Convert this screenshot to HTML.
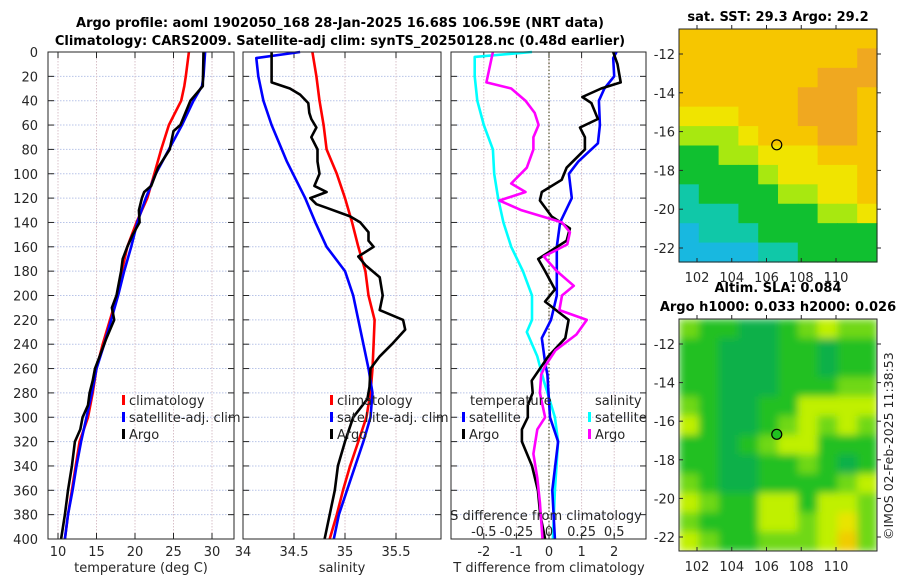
<!DOCTYPE html>
<html><head><meta charset="utf-8"><style>
body{margin:0;background:#fff;}
svg text{font-family:"DejaVu Sans","Liberation Sans",sans-serif;fill:#262626;}
</style></head><body>
<svg id="fig" xmlns="http://www.w3.org/2000/svg" width="900" height="580" viewBox="0 0 900 580">
<rect width="900" height="580" fill="#fff"/>
<text x="340" y="27" font-size="13" font-weight="bold" text-anchor="middle" style="fill:#000">Argo profile: aoml 1902050_168 28-Jan-2025 16.68S 106.59E (NRT data)</text>
<text x="340" y="45" font-size="13" font-weight="bold" text-anchor="middle" style="fill:#000">Climatology: CARS2009. Satellite-adj clim: synTS_20250128.nc (0.48d earlier)</text>
<g id="g1"></g>
<g id="g2"></g>
<g id="g3"></g>
<g id="m1"></g>
<g id="m2"></g>
<text x="778" y="21" font-size="13" font-weight="bold" text-anchor="middle" style="fill:#000">sat. SST: 29.3 Argo: 29.2</text>
<text x="778" y="292" font-size="13" font-weight="bold" text-anchor="middle" style="fill:#000">Altim. SLA: 0.084</text>
<text x="778" y="311" font-size="13" font-weight="bold" text-anchor="middle" style="fill:#000">Argo h1000: 0.033 h2000: 0.026</text>
<text transform="translate(893,540) rotate(-90)" font-size="12.5">©IMOS 02-Feb-2025 11:38:53</text>
</svg>
<script>
// ---- data ----
const tDepth = [0,20,28,40,60,80,100,120,140,160,180,200,240,260,280,300,320,340,360,380,400];
const tClim  = [27.0,26.6,26.4,26.0,24.4,23.4,22.5,21.6,20.2,19.0,18.3,17.7,15.8,15.0,14.5,13.9,12.8,12.3,11.8,11.3,10.9];
const tSat   = [29.1,28.9,28.7,27.6,26.1,24.4,22.7,21.4,20.3,19.5,18.6,17.8,16.0,15.0,14.4,13.7,13.0,12.4,11.9,11.3,10.9];
const argoDepth = [0,28,40,60,65,80,95,110,115,120,130,140,150,160,170,180,200,210,220,235,250,260,270,280,290,300,310,320,340,360,380,400];
const argoT = [28.9,28.8,27.2,25.9,25.0,24.5,23.0,22.1,21.2,20.9,20.5,20.6,19.7,19.0,18.4,18.2,17.6,17.0,17.3,16.3,15.4,14.8,14.5,14.1,13.9,13.2,12.9,12.2,11.8,11.3,10.9,10.4];
const sDepth = [0,5,20,40,60,80,90,100,120,140,160,180,200,220,240,260,280,300,320,340,360,380,400];
const sClim  = [34.68,34.69,34.72,34.75,34.79,34.82,34.87,34.92,35.0,35.07,35.13,35.2,35.23,35.29,35.28,35.27,35.25,35.21,35.13,35.05,34.98,34.92,34.85];
const sSat   = [34.56,34.13,34.15,34.2,34.28,34.38,34.43,34.49,34.61,34.71,34.82,35.0,35.08,35.13,35.18,35.23,35.27,35.25,35.18,35.1,35.02,34.94,34.89];
const argoSDepth = [0,25,30,35,42,50,55,62,70,80,90,100,110,115,120,125,128,135,140,148,155,160,168,175,185,200,212,220,228,240,250,260,275,285,300,320,340,360,380,400];
const argoS = [34.28,34.28,34.46,34.56,34.64,34.65,34.67,34.72,34.67,34.73,34.73,34.75,34.70,34.82,34.66,34.72,34.82,35.05,35.15,35.23,35.23,35.28,35.13,35.2,35.34,35.37,35.34,35.57,35.59,35.46,35.34,35.25,35.24,35.22,35.08,35.0,34.93,34.9,34.85,34.8];
const dDepth = [0,10,25,30,37,42,55,62,70,80,95,105,115,122,135,145,155,170,180,195,205,220,235,250,270,280,290,300,310,320,340,360,380,400];
const dArgoT = [1.97,2.1,2.2,1.6,1.02,1.3,1.5,0.95,1.1,1.1,0.54,0.39,-0.22,-0.28,0.08,0.64,0.54,-0.33,-0.12,0.18,-0.12,0.6,0.5,-0.02,-0.53,-0.5,-0.65,-0.65,-0.83,-0.83,-0.52,-0.34,-0.27,-0.12];
const dSatDepth = [0,5,20,30,40,60,75,90,100,120,140,160,200,220,235,255,265,300,320,360,400];
const dSatT = [2.07,1.97,2.0,1.7,1.53,1.56,1.5,0.9,0.61,0.7,0.34,0.24,0.24,0.06,-0.22,-0.12,-0.05,0.03,0.28,0.1,0.18];
const dSatSDepth = [0,4,20,40,60,80,100,120,140,160,180,200,220,230,250,270,300,320,360,400];
const dSatS = [-0.13,-0.57,-0.57,-0.55,-0.5,-0.43,-0.42,-0.39,-0.35,-0.29,-0.2,-0.13,-0.13,-0.17,-0.09,-0.04,0.045,0.07,0.045,0.03];
const dArgoSDepth = [0,25,30,40,50,60,70,80,95,108,115,122,130,140,148,158,168,180,192,200,212,220,232,245,258,265,280,300,310,330,350,370,400];
const dArgoS = [-0.43,-0.48,-0.29,-0.18,-0.11,-0.08,-0.12,-0.12,-0.17,-0.29,-0.18,-0.38,-0.21,0.1,0.16,0.14,-0.04,0.06,0.19,0.1,0.08,0.29,0.21,0.05,-0.03,-0.06,-0.07,-0.03,-0.09,-0.12,-0.09,-0.07,-0.05];
const depthTicks = [0,20,40,60,80,100,120,140,160,180,200,220,240,260,280,300,320,340,360,380,400];
const tTicks = [10,15,20,25,30];
const sTicks = [34,34.5,35,35.5];
const sTickLabels = ["34","34.5","35","35.5"];
const dTTicks = [-2,-1,0,1,2];
const dSTicks = [-0.5,-0.25,0,0.25,0.5];
const dSTickLabels = ["-0.5","-0.25","0","0.25","0.5"];
const sstGrid = [
[5,5,5,5,5,5,5,5,5,5],
[5,5,5,5,5,5,5,5,5,6],
[5,5,5,5,5,5,5,6,6,6],
[5,5,5,5,5,5,6,6,6,5],
[4,4,4,5,5,5,6,6,6,5],
[3,3,3,4,5,5,5,6,6,5],
[2,2,3,3,4,4,4,5,5,5],
[2,2,2,2,3,4,4,4,4,5],
[1,2,2,2,2,3,3,4,4,5],
[1,1,1,2,2,2,2,3,3,4],
[0,1,1,1,2,2,2,2,2,2],
[0,0,0,0,1,1,2,2,2,2]];
const slaGrid = [
[2,1,1,0,0,1,2,3,2,2],
[1,1,0,0,0,1,1,0,1,1],
[1,1,0,0,0,1,1,0,1,1],
[1,1,0,0,0,1,1,1,2,2],
[2,1,0,0,1,1,3,3,3,3],
[3,1,0,0,1,2,3,2,3,2],
[1,1,0,1,2,3,3,1,1,1],
[1,1,0,0,1,1,2,1,0,1],
[2,1,0,0,1,1,1,1,2,3],
[3,2,1,1,3,3,1,3,3,2],
[2,1,1,1,3,3,2,3,4,2],
[3,2,1,1,2,2,2,3,5,2]];
const latTicks = [-12,-14,-16,-18,-20,-22];
const lonTicks = [102,104,106,108,110];
const argoLon = 106.59, argoLat = -16.68;

// ---- helpers ----
const NS = "http://www.w3.org/2000/svg";
function mk(parent, tag, attrs){const e=document.createElementNS(NS,tag);for(const k in attrs)e.setAttribute(k,attrs[k]);parent.appendChild(e);return e;}
const top0=52, bot0=539;
const yD = d => top0 + d*(bot0-top0)/400;

function panel(g, x0, x1, xs, ticks, labels, showY, name){
  const f = mk(g,'rect',{x:x0,y:top0,width:x1-x0,height:bot0-top0,fill:'#fff'});
  
  
  depthTicks.forEach(d=>{
    const l=mk(g,'line',{x1:x0,x2:x1,y1:yD(d),y2:yD(d),stroke:'#b8c4e8','stroke-dasharray':'1.5,1.5','stroke-width':1});
    
    
    const t1=mk(g,'line',{x1:x0,x2:x0+6,y1:yD(d),y2:yD(d),stroke:'#262626'});
    
    
    const t2=mk(g,'line',{x1:x1-6,x2:x1,y1:yD(d),y2:yD(d),stroke:'#262626'});
    
    
    if(showY){
      const tx=mk(g,'text',{x:x0-10,y:yD(d)+5,'font-size':13,'text-anchor':'end'});
      tx.textContent=d;
      
      
    }
  });
  ticks.forEach((v,i)=>{
    const x=xs(v);
    const l=mk(g,'line',{x1:x,x2:x,y1:top0,y2:bot0,stroke:'#d8c0c8','stroke-dasharray':'1.5,1.5'});
    
    
    const tk=mk(g,'line',{x1:x,x2:x,y1:bot0-6,y2:bot0,stroke:'#262626'});
    
    
    const tk2=mk(g,'line',{x1:x,x2:x,y1:top0,y2:top0+6,stroke:'#262626'});
    
    
    const tx=mk(g,'text',{x:x,y:556,'font-size':13,'text-anchor':'middle'});
    tx.textContent=labels[i];
    
    
  });
}
function border(g,x0,x1){
  const b=mk(g,'rect',{x:x0,y:top0,width:x1-x0,height:bot0-top0,fill:'none',stroke:'#262626','stroke-width':1});
  
  
}
function line(g, xs, xv, dv, color, name){
  const pts = xv.map((v,i)=>xs(v).toFixed(1)+','+yD(dv[i]).toFixed(1)).join(' ');
  const p=mk(g,'polyline',{points:pts,fill:'none',stroke:color,'stroke-width':2.6,'stroke-linejoin':'round'});
  
  
}
function legend(g, x, y, color, label){
  const r=mk(g,'rect',{x:x,y:y-10,width:3,height:10,fill:color});
  
  
  const t=mk(g,'text',{x:x+7,y:y,'font-size':13});
  t.textContent=label;
  
  
}

// ---- panel 1: temperature ----
const g1=document.getElementById('g1');
const xT = v => 58 + (v-10)*7.7;
panel(g1,48,234,xT,tTicks,tTicks.map(String),true,'temperature');
line(g1,xT,tClim,tDepth,'#ff0000','climatology-temperature-line');
line(g1,xT,tSat,tDepth,'#0000ff','satellite-temperature-line');
line(g1,xT,argoT,argoDepth,'#000','argo-temperature-line');
border(g1,48,234);
legend(g1,122,405,'#ff0000','climatology');
legend(g1,122,422,'#0000ff','satellite-adj. clim');
legend(g1,122,439,'#000','Argo');
let at=mk(g1,'text',{x:141,y:572,'font-size':13,'text-anchor':'middle'});at.textContent='temperature (deg C)';



// ---- panel 2: salinity ----
const g2=document.getElementById('g2');
const xS = v => 243 + (v-34)*102;
panel(g2,243,441,xS,sTicks,sTickLabels,false,'salinity');
line(g2,xS,sClim,sDepth,'#ff0000','climatology-salinity-line');
line(g2,xS,sSat,sDepth,'#0000ff','satellite-salinity-line');
line(g2,xS,argoS,argoSDepth,'#000','argo-salinity-line');
border(g2,243,441);
legend(g2,330,405,'#ff0000','climatology');
legend(g2,330,422,'#0000ff','satellite-adj. clim');
legend(g2,330,439,'#000','Argo');
at=mk(g2,'text',{x:342,y:572,'font-size':13,'text-anchor':'middle'});at.textContent='salinity';



// ---- panel 3: differences ----
const g3=document.getElementById('g3');
const xdT = v => 549 + v*32.6;
const xdS = v => 549 + v*130.4;
panel(g3,451,646,xdT,dTTicks,dTTicks.map(String),false,'difference');
const zl=mk(g3,'line',{x1:549,x2:549,y1:top0,y2:bot0,stroke:'#555530','stroke-dasharray':'1.5,2','stroke-width':1.2});


line(g3,xdS,dSatS,dSatSDepth,'#00ffff','satellite-salinity-difference-line');
line(g3,xdT,dSatT,dSatDepth,'#0000ff','satellite-temperature-difference-line');
line(g3,xdT,dArgoT,dDepth,'#000','argo-temperature-difference-line');
line(g3,xdS,dArgoS,dArgoSDepth,'#ff00ff','argo-salinity-difference-line');
border(g3,451,646);
let lt=mk(g3,'text',{x:470,y:405,'font-size':13});lt.textContent='temperature';


legend(g3,462,422,'#0000ff','satellite');
legend(g3,462,439,'#000','Argo');
lt=mk(g3,'text',{x:595,y:405,'font-size':13});lt.textContent='salinity';


legend(g3,588,422,'#00ffff','satellite');
legend(g3,588,439,'#ff00ff','Argo');
lt=mk(g3,'text',{x:546,y:520,'font-size':13,'text-anchor':'middle'});lt.textContent='S difference from climatology';


dSTicks.forEach((v,i)=>{
  const t=mk(g3,'text',{x:xdS(v),y:536,'font-size':13,'text-anchor':'middle'});
  t.textContent=dSTickLabels[i];
  
  
});
at=mk(g3,'text',{x:549,y:572,'font-size':13,'text-anchor':'middle'});at.textContent='T difference from climatology';



// ---- maps ----
const sstColors=['#18b8e0','#10c8a8','#10c030','#a8e810','#f0e400','#f6c600','#f0a820'];
const slaColors=['#10b048','#20c020','#70d818','#c0f000','#e8e400','#f0cc00'];
function map(gid, y0, y1, grid, colors, blur, fillCircle, name){
  const g=document.getElementById(gid);
  const x0=679,x1=877;
  const rows=grid.length, cols=grid[0].length;
  const cw=(x1-x0)/cols, ch=(y1-y0)/rows;
  const svg=document.getElementById('fig');
  if(blur){
    const defs=mk(svg,'defs',{});
    const f=mk(defs,'filter',{id:'bl'+gid,x:0,y:0,width:1,height:1});
    mk(f,'feGaussianBlur',{stdDeviation:4});
    const cp=mk(defs,'clipPath',{id:'cp'+gid});
    mk(cp,'rect',{x:x0,y:y0,width:x1-x0,height:y1-y0});
  }
  const cg=mk(g,'g',blur?{filter:'url(#bl'+gid+')'}:{});
  const outer=blur?mk(g,'g',{'clip-path':'url(#cp'+gid+')'}):g;
  if(blur){outer.appendChild(cg);}
  
  
  grid.forEach((row,r)=>row.forEach((v,c)=>{
    const e=mk(cg,'rect',{x:x0+c*cw,y:y0+r*ch,width:cw+0.6,height:ch+0.6,fill:colors[v]});
    
    
  }));
  const b=mk(g,'rect',{x:x0,y:y0,width:x1-x0,height:y1-y0,fill:'none',stroke:'#262626'});
  
  
  const lon = v => 697 + (v-102)*(139/8);
  const lat = v => y0 + 25 + (-12 - v)*(y1-y0-39)/10;
  latTicks.forEach(v=>{
    const y=lat(v);
    mk(g,'line',{x1:x0,x2:x0+4,y1:y,y2:y,stroke:'#262626'});
    mk(g,'line',{x1:x1,x2:x1+4,y1:y,y2:y,stroke:'#262626'});
    const t=mk(g,'text',{x:x0-4,y:y+5,'font-size':13,'text-anchor':'end'});t.textContent=v;
    
    
  });
  lonTicks.forEach(v=>{
    const x=lon(v);
    mk(g,'line',{x1:x,x2:x,y1:y1,y2:y1-4,stroke:'#262626'});
    mk(g,'line',{x1:x,x2:x,y1:y0,y2:y0-4,stroke:'#262626'});
    const t=mk(g,'text',{x:x,y:y1+20,'font-size':13,'text-anchor':'middle'});t.textContent=v;
    
    
  });
  const c=mk(g,'circle',{cx:lon(argoLon),cy:lat(argoLat),r:5,fill:fillCircle,stroke:'#000','stroke-width':1.2});
  
  
}
map('m1',29,262,sstGrid,sstColors,false,'none','sst-map');
map('m2',319,551,slaGrid,slaColors,true,'#20c020','sla-map');
</script>
</body></html>
